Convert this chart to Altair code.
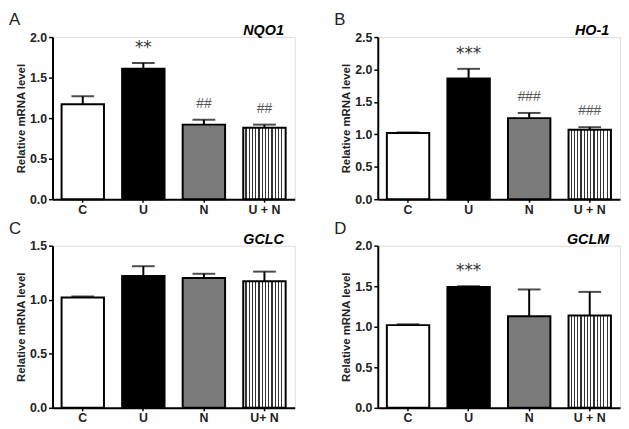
import altair as alt
import pandas as pd

# ---- data ----
groups_std = ["C", "U", "N", "U + N"]
groups_c = ["C", "U", "N", "U+ N"]

nqo1_mean = [1.17, 1.61, 0.92, 0.88]
nqo1_upper = [1.27, 1.68, 0.98, 0.92]
nqo1_ann = ["", "**", "##", "##"]

ho1_mean = [1.02, 1.86, 1.25, 1.07]
ho1_upper = [1.03, 2.01, 1.33, 1.11]
ho1_ann = ["", "***", "###", "###"]

gclc_mean = [1.02, 1.22, 1.20, 1.17]
gclc_upper = [1.03, 1.31, 1.24, 1.26]
gclc_ann = ["", "", "", ""]

gclm_mean = [1.02, 1.49, 1.13, 1.14]
gclm_upper = [1.03, 1.50, 1.46, 1.43]
gclm_ann = ["", "***", "", ""]

FONT = "Liberation Sans"
W, H = 245, 164

# vertical stripe fill for the combined group
stops = []
n_stripes = 13
for i in range(n_stripes):
    a = i / n_stripes
    b = (i + 0.65) / n_stripes
    c = (i + 1) / n_stripes
    stops += [
        {"offset": a, "color": "white"},
        {"offset": b, "color": "white"},
        {"offset": b, "color": "#333333"},
        {"offset": c, "color": "#333333"},
    ]
stripe_fill = alt.LinearGradient(gradient="linear", stops=stops, x1=0, x2=1, y1=0, y2=0)


def panel(letter, gene, labels, means, uppers, ann, ymax, tick_vals):
    df = pd.DataFrame({
        "idx": list(range(len(labels))),
        "label": labels,
        "mean": means,
        "upper": uppers,
        "ann": ann,
    })
    base = alt.Chart(df)
    xenc = alt.X(
        "label:N", sort=labels,
        scale=alt.Scale(paddingInner=0.3, paddingOuter=0.15),
        axis=alt.Axis(title=None, labelAngle=0, labelFont=FONT, labelFontWeight="bold",
                      labelFontSize=12.5, labelColor="#222", domainColor="black",
                      domainWidth=2, tickColor="black", tickSize=3, tickWidth=1.5,
                      labelPadding=1),
    )
    yscale = alt.Scale(domain=[0, ymax], nice=False, zero=True)
    yaxis = alt.Axis(values=tick_vals, format=".1f", title="Relative mRNA level",
                     grid=False, labelFont=FONT, labelFontWeight="bold", labelFontSize=12.5,
                     labelColor="#222", titleFont=FONT, titleFontWeight="bold",
                     titleFontSize=11.5, titleColor="#222", titlePadding=3,
                     domainColor="black", domainWidth=2, tickColor="black",
                     tickSize=4, tickWidth=1.5, labelPadding=2, labelOverlap=False)

    def Y(field):
        return alt.Y(field, scale=yscale, axis=yaxis, title="Relative mRNA level")

    err = base.mark_rule(color="black", strokeWidth=2).encode(
        x=xenc, y=Y("mean:Q"), y2="upper:Q")
    cap = base.mark_tick(color="black", thickness=2, size=23).encode(
        x=xenc, y=Y("upper:Q"))
    bars = base.transform_filter("datum.idx < 3").mark_bar(
        stroke="black", strokeWidth=2).encode(
        x=xenc, y=Y("mean:Q"),
        fill=alt.Color("label:N", scale=alt.Scale(domain=labels[:3],
                                                  range=["white", "black", "#7a7a7a"]),
                       legend=None))
    striped = base.transform_filter("datum.idx == 3").mark_bar(
        stroke="black", strokeWidth=2, fill=stripe_fill).encode(
        x=xenc, y=Y("mean:Q"))
    stars = base.transform_filter("indexof(datum.ann, '*') >= 0").mark_text(
        dy=-15, fontSize=17, color="#333", font="DejaVu Sans",
        baseline="middle").encode(
        x=xenc, y=Y("upper:Q"), text="ann:N")
    hashes = base.transform_filter("indexof(datum.ann, '#') >= 0").mark_text(
        dy=-16, fontSize=14, color="#555", font=FONT,
        baseline="middle").encode(
        x=xenc, y=Y("upper:Q"), text="ann:N")
    letter_t = base.transform_filter("datum.idx == 0").mark_text(
        font=FONT, fontSize=17, color="#222", align="left", baseline="top").encode(
        x=alt.value(-44), y=alt.value(-25), text=alt.value(letter))
    gene_t = base.transform_filter("datum.idx == 0").mark_text(
        font=FONT, fontSize=14.5, fontWeight="bold", fontStyle="italic", color="black",
        align="right", baseline="alphabetic").encode(
        x=alt.value(W - 11), y=alt.value(-2), text=alt.value(gene))
    return alt.layer(err, cap, bars, striped, stars, hashes, letter_t, gene_t).properties(
        width=W, height=H)


pA = panel("A", "NQO1", groups_std, nqo1_mean, nqo1_upper, nqo1_ann, 2.0, [0, 0.5, 1.0, 1.5, 2.0])
pB = panel("B", "HO-1", groups_std, ho1_mean, ho1_upper, ho1_ann, 2.5, [0, 0.5, 1.0, 1.5, 2.0, 2.5])
pC = panel("C", "GCLC", groups_c, gclc_mean, gclc_upper, gclc_ann, 1.5, [0, 0.5, 1.0, 1.5])
pD = panel("D", "GCLM", groups_std, gclm_mean, gclm_upper, gclm_ann, 2.0, [0, 0.5, 1.0, 1.5, 2.0])

chart = alt.vconcat(
    alt.hconcat(pA, pB, spacing=38),
    alt.hconcat(pC, pD, spacing=38),
    spacing=3,
).properties(padding=0).configure_view(stroke=None).configure(background="white")

chart.save("out.html", embed_options={"renderer": "svg", "actions": False})
